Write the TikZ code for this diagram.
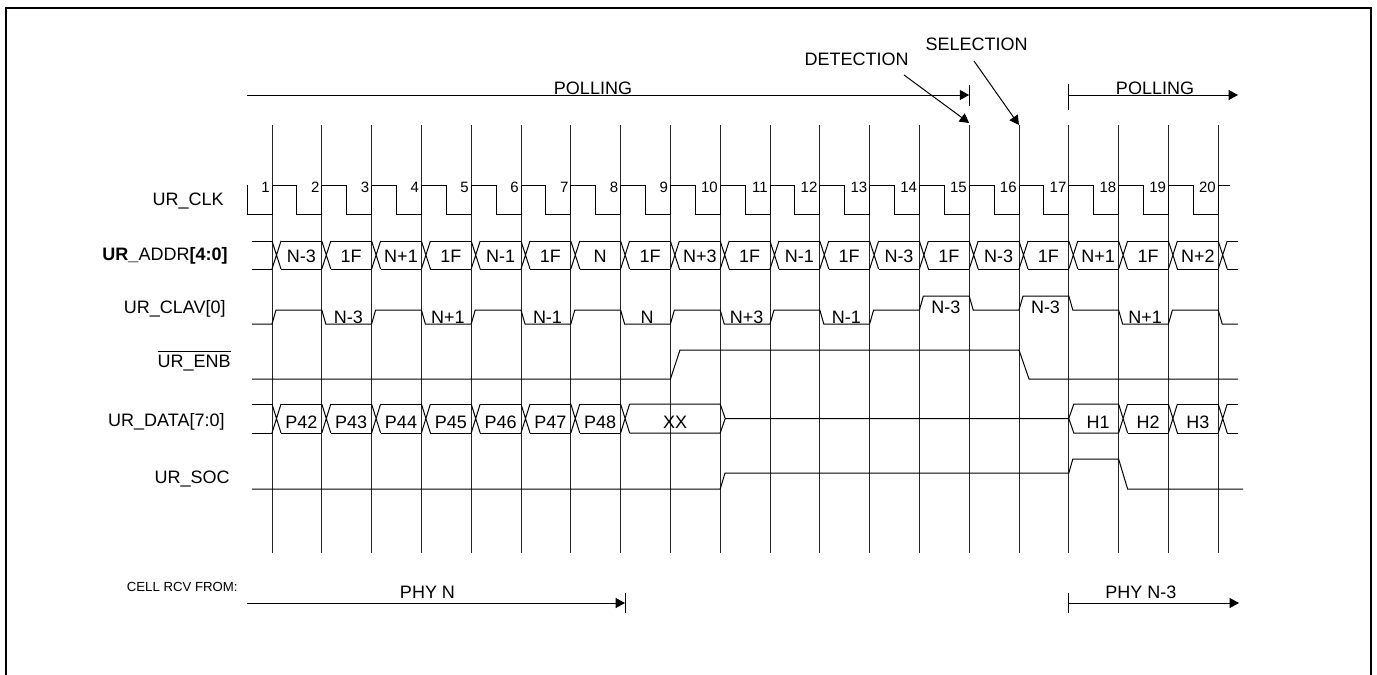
\documentclass[tikz,border=0pt]{standalone}
\usepackage{fontspec}
\setmainfont{Liberation Sans}
\usetikzlibrary{arrows.meta}
\begin{document}
\begin{tikzpicture}[x=0.5pt,y=-0.5pt,
  lbl/.style={font=\fontsize{9}{10}\selectfont, inner sep=0pt},
  val/.style={font=\fontsize{9}{10}\selectfont, inner sep=0pt},
  clk/.style={font=\fontsize{7.5}{8}\selectfont, inner sep=0pt},
  small/.style={font=\fontsize{6.6}{8}\selectfont, inner sep=0pt},
  sig/.style={line width=0.5pt, black},
  vline/.style={line width=0.5pt, black!85},
  arr/.style={line width=0.5pt, -{Triangle[length=4.7pt,width=5pt]}},
  frame/.style={line width=1pt}]
\useasboundingbox (0,0) rectangle (1377,675);
% frame
\draw[frame] (6,690) -- (6,8) -- (1371,8) -- (1371,690);

% clock edges, grid lines, numbers, address crossings
\foreach \k in {1,...,20}{
  \pgfmathsetmacro\x{272+(\k-1)*49.8}
  \coordinate (e\k) at (\x,125);
  \coordinate (f\k) at (\x,553);
  \draw[vline] (e\k) -- (f\k);
  \node[clk,anchor=east] (n\k) at (\x-2,187) {\k};
  \draw[sig] (\x,241) -- (\x+9,269) (\x,269) -- (\x+9,241);
}
% clock waveform
\draw[sig] (247,185) -- (247,214)
  \foreach \k in {0,...,18}{ -- ({272+\k*49.8},214) -- ({272+\k*49.8},185)
     -- ({272+\k*49.8+24.9},185) -- ({272+\k*49.8+24.9},214) }
  -- (1218.2,214) -- (1218.2,185) -- (1230,185);

% ADDR bus
\draw[sig] (252,241) -- (272,241) (252,269) -- (272,269);
\foreach \k in {1,...,19}{
  \pgfmathsetmacro\x{272+(\k-1)*49.8}
  \draw[sig] (\x+9,241) -- (\x+49.8,241) (\x+9,269) -- (\x+49.8,269);
}
\draw[sig] (1227.2,241) -- (1238,241) (1227.2,269) -- (1238,269);
\foreach \k/\v in {1/N-3,2/1F,3/N+1,4/1F,5/N-1,6/1F,7/N,8/1F,9/N+3,10/1F,11/N-1,12/1F,13/N-3,14/1F,15/N-3,16/1F,17/N+1,18/1F,19/N+2}{
  \pgfmathsetmacro\x{272+(\k-1)*49.8}
  \node[val] (a\k) at (\x+29.4,256.5) {\v};
}

% CLAV[0]
\draw[sig] (252,324) -- (272,324) -- (276,310) -- (321.8,310) -- (325.8,324)
 -- (371.6,324) -- (375.6,310) -- (421.4,310) -- (425.4,324) -- (471.2,324)
 -- (475.2,310) -- (521,310) -- (525,324) -- (570.8,324) -- (574.8,310)
 -- (620.6,310) -- (624.6,324) -- (670.4,324) -- (674.4,310) -- (720.2,310)
 -- (724.2,324) -- (770,324) -- (774,310) -- (819.8,310) -- (823.8,324)
 -- (869.6,324) -- (873.6,310) -- (919.4,310) -- (923.4,296) -- (969.2,296)
 -- (973.2,310) -- (1019,310) -- (1023,296) -- (1068.8,296) -- (1072.8,310)
 -- (1118.6,310) -- (1122.6,324) -- (1168.4,324) -- (1172.4,310) -- (1218.2,310)
 -- (1222.2,324) -- (1238,324);
\foreach \k/\v in {2/N-3,4/N+1,6/N-1,8/N,10/N+3,12/N-1,18/N+1}{
  \pgfmathsetmacro\x{272+(\k-1)*49.8}
  \node[val,anchor=base] (c\k) at (\x+26.5,323.5) {\v};
}
\foreach \k/\v in {14/N-3,16/N-3}{
  \pgfmathsetmacro\x{272+(\k-1)*49.8}
  \node[val,anchor=base] (c\k) at (\x+26.5,313) {\v};
}

% ENB
\draw[sig] (252,379) -- (670.4,379) -- (680,350) -- (1019,350) -- (1029,379) -- (1238,379);

% DATA bus
\draw[sig] (252,404) -- (272,404) (252,433) -- (272,433);
\foreach \k in {1,...,8,18,19,20}{
  \pgfmathsetmacro\x{272+(\k-1)*49.8}
  \draw[sig] (\x,404) -- (\x+9,433) (\x,433) -- (\x+9,404);
}
\foreach \k in {1,...,7,18,19}{
  \pgfmathsetmacro\x{272+(\k-1)*49.8}
  \draw[sig] (\x+9,404) -- (\x+49.8,404) (\x+9,433) -- (\x+49.8,433);
}
\draw[sig] (629.6,404) -- (720.2,404) -- (725.2,418.5) (629.6,433) -- (720.2,433) -- (725.2,418.5)
  -- (1068.8,418.5) -- (1073.8,404) -- (1118.6,404) (1068.8,418.5) -- (1073.8,433) -- (1118.6,433);
\draw[sig] (1227.2,404) -- (1238,404) (1227.2,433) -- (1238,433);
\foreach \k/\v in {1/P42,2/P43,3/P44,4/P45,5/P46,6/P47,7/P48,17/H1,18/H2,19/H3}{
  \pgfmathsetmacro\x{272+(\k-1)*49.8}
  \node[val] (d\k) at (\x+29.4,422.5) {\v};
}
\node[val] (dxx) at (675,422.5) {XX};

% SOC
\draw[sig] (252,489) -- (720.2,489) -- (725,473) -- (1068.8,473) -- (1072.8,459)
  -- (1118.6,459) -- (1127.6,489) -- (1243,489);

% signal names
\node[lbl,anchor=base east] (lclk) at (224,205) {UR\_CLK};
\node[lbl,anchor=base east] (laddr) at (228,260) {\textbf{UR\_}ADDR\textbf{[4:0]}};
\node[lbl,anchor=base east] (lclav) at (226,313.5) {UR\_CLAV[0]};
\node[lbl,anchor=base east] (lenb) at (231,367) {$\overline{\mbox{UR\_ENB}}$};
\node[lbl,anchor=base east] (ldata) at (225,426) {UR\_DATA[7:0]};
\node[lbl,anchor=base east] (lsoc) at (230,483) {UR\_SOC};

% polling arrows
\coordinate (p1s) at (247,95);
\coordinate (p1e) at (969.2,95);
\draw[arr] (p1s) -- (p1e);
\draw[sig] (969.2,85) -- (969.2,106);
\node[lbl,anchor=base] (pol1) at (593,94.5) {POLLING};
\coordinate (p2s) at (1068.8,95);
\coordinate (p2e) at (1238,95);
\draw[sig] (1068.8,84) -- (1068.8,110);
\draw[arr] (p2s) -- (p2e);
\node[lbl,anchor=base] (pol2) at (1155,94.5) {POLLING};

% detection / selection
\node[lbl,anchor=base] (det) at (856.7,65) {DETECTION};
\node[lbl,anchor=base] (sel) at (976.7,50) {SELECTION};
\coordinate (dets) at (904,75);
\coordinate (sels) at (974,61);
\draw[arr] (dets) -- ([yshift=1pt]e15);
\draw[arr] (sels) -- (e16);

% cell received
\node[small,anchor=base east] (cell) at (238,591.5) {CELL RCV FROM:};
\coordinate (q1s) at (247,603);
\coordinate (q1e) at (625,603);
\draw[arr] (q1s) -- (q1e);
\draw[sig] (625,593) -- (625,613);
\node[lbl,anchor=base] (phyn) at (427.5,598) {PHY N};
\coordinate (q2s) at (1068.8,603);
\coordinate (q2e) at (1239,603);
\draw[sig] (1068.8,593) -- (1068.8,613);
\draw[arr] (q2s) -- (q2e);
\node[lbl,anchor=base] (phyn3) at (1140.8,598) {PHY N-3};
\end{tikzpicture}
\end{document}
